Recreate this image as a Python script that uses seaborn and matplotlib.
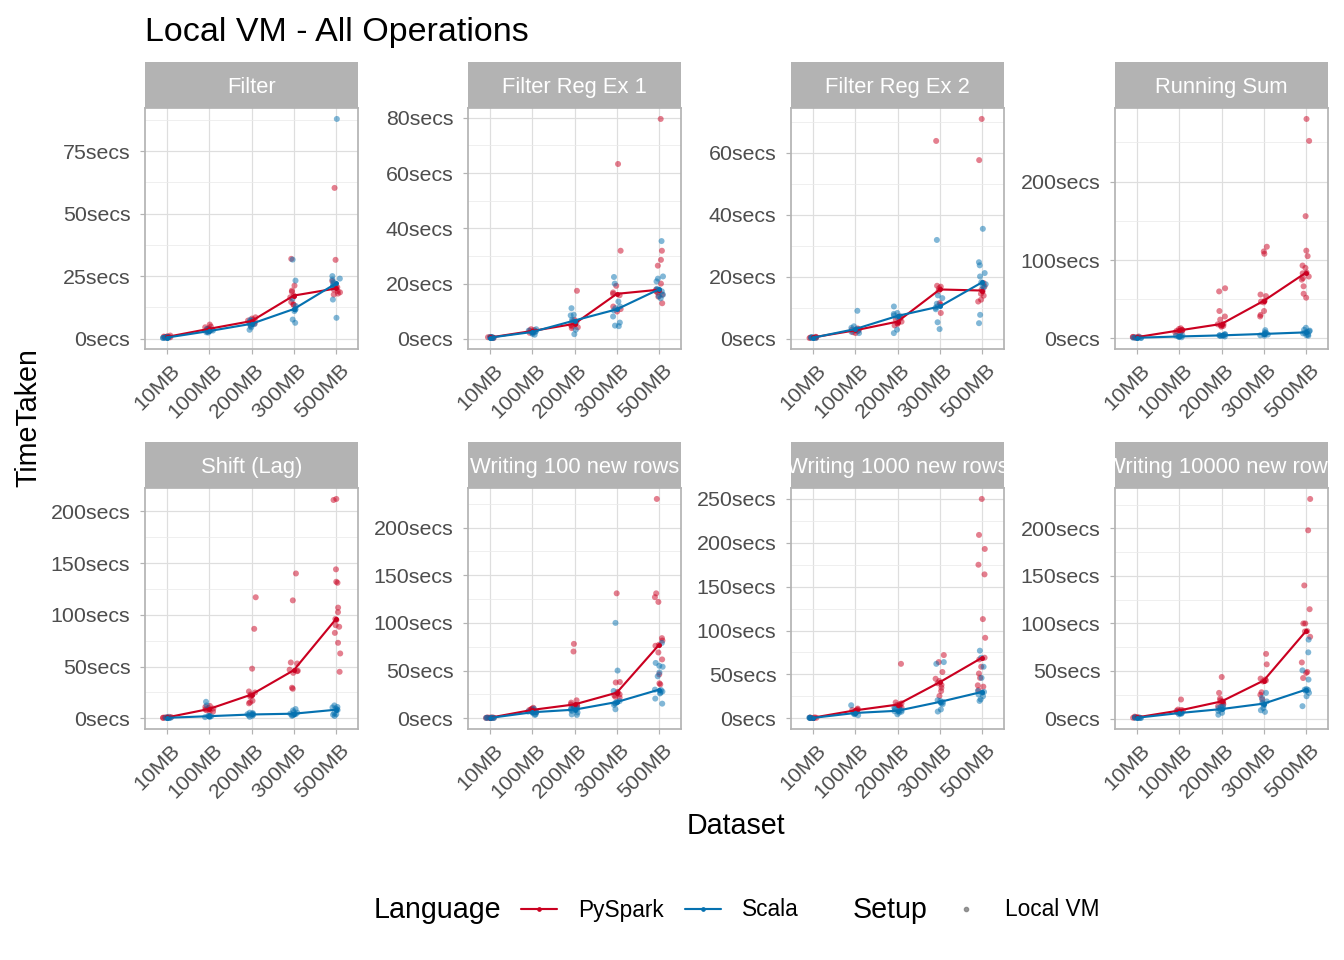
import matplotlib
matplotlib.use("Agg")
import matplotlib.pyplot as plt
from matplotlib.lines import Line2D
from matplotlib.patches import Rectangle
from matplotlib.ticker import MultipleLocator, AutoMinorLocator, FuncFormatter
from matplotlib.transforms import ScaledTranslation
import seaborn as sns
import pandas as pd
import numpy as np

datasets = ["10MB", "100MB", "200MB", "300MB", "500MB"]
languages = ["PySpark", "Scala"]
operations = ["Filter", "Filter Reg Ex 1", "Filter Reg Ex 2", "Running Sum",
              "Shift (Lag)", "Writing 100 new rows", "Writing 1000 new rows",
              "Writing 10000 new rows"]
y_steps = [25, 20, 20, 100, 50, 50, 50, 50]

# seconds per run, one inner list per dataset size
filter_py = [[0.9, 0.6, 0.4, 0.7, 0.5, 1.2, 0.8, 0.6],
             [3.2, 4.5, 5.6, 3.8, 4.0, 2.9, 4.8, 3.5],
             [8.5, 7.5, 6.8, 6.0, 5.5, 7.2, 6.5, 8.0],
             [21.2, 19.2, 18.7, 13.7, 31.9, 14.6, 17.2, 16.5, 13.5],
             [60.3, 31.5, 23.0, 19.6, 18.5, 17.6, 19.0, 20.5, 18.0, 21.0]]
filter_sc = [[0.3, 0.5, 0.2, 0.6, 0.4, 0.3, 0.5],
             [2.5, 3.0, 3.5, 2.8, 3.8, 2.4, 3.2],
             [7.5, 6.5, 5.0, 4.5, 3.5, 6.0, 7.0, 5.8],
             [31.6, 23.2, 13.0, 11.8, 11.6, 7.6, 6.3, 15.9, 11.0],
             [87.9, 25.0, 23.6, 22.5, 21.6, 20.5, 15.6, 8.3, 21.0, 24.0]]

regex1_py = [[0.5, 0.7, 0.4, 0.6, 0.3, 0.5],
             [2.7, 3.5, 2.4, 3.0, 2.2, 3.2],
             [17.4, 6.9, 5.9, 4.5, 3.9, 5.0, 4.2, 6.2],
             [63.3, 31.9, 19.2, 16.8, 16.3, 11.7, 10.8, 9.9, 15.8],
             [79.6, 31.9, 28.6, 26.5, 20.0, 17.8, 16.8, 15.3, 12.9, 17.2, 16.0]]
regex1_sc = [[0.4, 0.6, 0.3, 0.5, 0.7, 0.4],
             [1.5, 3.5, 2.5, 1.8, 3.0, 2.2, 2.8],
             [11.1, 8.7, 8.5, 6.9, 5.9, 3.3, 1.7, 6.4],
             [22.4, 20.0, 13.5, 11.7, 11.1, 8.1, 5.9, 4.8, 4.6, 10.3],
             [35.4, 22.6, 21.8, 20.8, 18.1, 17.2, 16.0, 14.7, 15.5, 17.8]]

regex2_py = [[0.3, 0.5, 0.2, 0.4, 0.6],
             [2.9, 2.5, 1.8, 3.3, 2.1, 3.0],
             [7.2, 6.1, 5.0, 4.3, 5.5, 4.8, 6.5],
             [63.9, 17.1, 16.3, 11.5, 11.0, 8.3, 15.5, 16.8],
             [71.0, 57.7, 18.0, 16.9, 15.3, 13.9, 12.6, 12.0, 15.8, 14.5]]
regex2_sc = [[0.2, 0.4, 0.3, 0.5, 0.3],
             [9.0, 4.0, 1.8, 3.1, 2.6, 3.5, 2.2],
             [10.4, 8.3, 8.0, 7.2, 2.9, 1.8, 7.5, 6.8],
             [31.9, 14.0, 13.1, 11.3, 10.4, 5.3, 3.1, 10.0, 9.5],
             [35.5, 24.7, 23.7, 21.2, 20.1, 18.2, 17.6, 7.7, 5.0, 16.5, 17.0]]

runsum_py = [[1.5, 2.0, 1.0, 1.8, 1.2, 2.5],
             [8.0, 12.0, 10.0, 9.5, 11.0, 7.5, 10.5, 13.0],
             [64.0, 60.0, 35.0, 28.0, 24.0, 18.0, 16.0, 17.0, 18.5, 15.0, 16.5],
             [117.0, 111.0, 108.0, 56.0, 54.0, 47.0, 35.0, 30.0, 28.0, 48.0, 46.0],
             [280.0, 252.0, 156.0, 112.0, 105.0, 93.0, 90.0, 83.0, 77.0, 75.0,
              66.5, 57.0, 52.0, 84.0, 79.0]]
runsum_sc = [[0.8, 1.2, 0.5, 1.0, 0.7, 1.5],
             [2.0, 3.0, 2.5, 1.5, 3.5, 2.2, 4.0],
             [3.0, 4.0, 5.0, 3.5, 4.5, 2.5, 3.8, 5.5],
             [10.6, 7.0, 5.0, 4.0, 6.0, 3.5, 8.0, 5.5],
             [13.6, 9.0, 7.0, 5.0, 4.0, 8.5, 11.0, 10.0, 3.5, 6.5]]

shift_py = [[0.8, 1.2, 0.5, 1.0, 1.5, 0.6],
            [12.0, 8.7, 7.0, 10.0, 9.5, 6.5, 8.0, 11.0],
            [117.0, 86.5, 48.0, 26.0, 25.0, 22.0, 17.0, 14.5, 15.5, 21.0, 23.0],
            [140.0, 114.0, 54.0, 53.0, 47.0, 45.6, 29.6, 28.6, 46.0, 44.0],
            [212.0, 211.0, 144.0, 132.0, 131.0, 107.0, 102.6, 96.0, 90.0, 88.5,
             82.6, 73.0, 62.7, 45.0, 95.0]]
shift_sc = [[0.5, 0.8, 0.3, 1.0, 0.6, 0.4],
            [16.0, 12.5, 2.0, 1.5, 1.8, 2.2, 1.2, 2.5],
            [4.0, 5.0, 3.0, 2.5, 4.5, 3.5, 1.5, 5.5],
            [9.0, 7.7, 5.5, 4.0, 3.5, 4.5, 3.0, 6.0, 2.5],
            [12.5, 8.7, 8.0, 4.0, 2.3, 9.5, 10.5, 5.0, 3.5, 11.0]]

w100_py = [[0.5, 0.8, 0.3, 1.0, 0.6, 0.4],
           [9.4, 8.0, 7.0, 10.0, 9.0, 6.5, 11.0, 8.5],
           [78.0, 70.0, 18.8, 16.4, 14.0, 11.8, 14.5, 13.0, 12.5],
           [131.0, 38.0, 37.5, 26.8, 24.0, 21.6, 25.0, 27.5, 22.5],
           [230.0, 131.0, 127.0, 122.0, 84.0, 81.5, 77.0, 69.0, 61.7, 46.0,
            36.6, 35.5, 76.0]]
w100_sc = [[0.3, 0.5, 0.2, 0.6, 0.4, 0.3],
           [10.0, 6.0, 4.0, 5.5, 7.0, 3.5, 6.5, 8.0],
           [10.0, 7.7, 6.0, 4.0, 9.4, 11.0, 9.0, 12.0, 3.5],
           [100.0, 50.0, 28.6, 17.0, 15.3, 9.4, 16.0, 18.0, 14.0],
           [79.0, 58.0, 55.0, 54.0, 48.0, 44.0, 29.6, 28.0, 26.0, 20.6, 15.3,
            30.0, 27.0]]

w1000_py = [[0.5, 0.8, 0.3, 1.0, 0.6],
            [9.0, 8.0, 10.0, 7.0, 11.0, 9.5, 6.5],
            [62.0, 17.0, 14.0, 12.0, 16.0, 18.0, 15.0, 13.5],
            [72.0, 64.0, 52.7, 45.0, 42.4, 39.8, 34.8, 31.0, 25.4, 38.0],
            [250.0, 209.0, 193.0, 175.0, 164.0, 113.0, 91.7, 69.0, 58.7, 51.0,
             46.0, 37.5, 36.0, 32.0, 67.0]]
w1000_sc = [[0.3, 0.5, 0.2, 0.6, 0.4],
            [14.8, 6.4, 3.4, 5.0, 7.0, 6.0, 4.5],
            [10.0, 6.4, 4.5, 8.0, 9.0, 11.0, 7.5, 12.0],
            [64.0, 62.0, 19.7, 17.0, 10.0, 7.6, 18.6, 20.5, 16.0],
            [77.0, 69.0, 58.7, 46.0, 29.0, 27.0, 21.6, 19.7, 30.0, 31.0, 25.0]]

w10000_py = [[1.0, 1.5, 0.8, 1.2, 2.0],
             [20.0, 9.4, 8.4, 7.5, 8.0, 9.0, 6.5],
             [43.7, 27.0, 21.0, 18.0, 17.0, 15.0, 16.5, 19.0, 13.0],
             [68.0, 57.0, 41.0, 40.0, 27.6, 25.0, 20.0, 42.0, 39.0],
             [231.0, 198.0, 140.0, 115.0, 100.0, 100.0, 91.6, 86.0, 59.0, 49.0,
              48.0, 42.6, 92.0]]
w10000_sc = [[0.8, 1.2, 0.5, 1.0, 0.7],
             [6.0, 5.0, 7.0, 4.5, 6.5, 5.5],
             [13.0, 9.4, 6.0, 4.0, 11.0, 12.0, 10.5, 8.0],
             [27.0, 21.7, 18.0, 11.0, 8.7, 7.0, 15.7, 16.5, 14.0],
             [83.0, 69.6, 50.7, 41.0, 30.4, 27.0, 23.4, 13.0, 30.0, 31.0, 29.0]]

runs = {
    "Filter": (filter_py, filter_sc),
    "Filter Reg Ex 1": (regex1_py, regex1_sc),
    "Filter Reg Ex 2": (regex2_py, regex2_sc),
    "Running Sum": (runsum_py, runsum_sc),
    "Shift (Lag)": (shift_py, shift_sc),
    "Writing 100 new rows": (w100_py, w100_sc),
    "Writing 1000 new rows": (w1000_py, w1000_sc),
    "Writing 10000 new rows": (w10000_py, w10000_sc),
}

rows = []
for op in operations:
    for lang, per_size in zip(languages, runs[op]):
        for ds, vals in zip(datasets, per_size):
            for v in vals:
                rows.append((op, lang, ds, v))
df = pd.DataFrame(rows, columns=["Operation", "Language", "Dataset", "TimeTaken"])

sns.set_theme(style="white")
plt.rcParams["font.family"] = ["Liberation Sans", "DejaVu Sans"]
plt.rcParams["text.color"] = "black"

colors = {"PySpark": "#CA0020", "Scala": "#0571B0"}
W, H = 1344, 960
fig = plt.figure(figsize=(14, 10), dpi=96)

col_left = [145, 468, 791, 1115]
row_top = [108, 488]
pw, ph = 213, 241
strip_h = 46
xlab_shift = ScaledTranslation(10 / 96, -9 / 96, fig.dpi_scale_trans)

np.random.seed(3)
for i, op in enumerate(operations):
    r, c = divmod(i, 4)
    ax = fig.add_axes([col_left[c] / W, 1 - (row_top[r] + ph) / H, pw / W, ph / H])
    sub = df[df["Operation"] == op]

    sns.stripplot(data=sub, x="Dataset", y="TimeTaken", hue="Language",
                  order=datasets, hue_order=languages, palette=colors,
                  jitter=0.1, size=4.5, alpha=0.5, linewidth=0,
                  legend=False, ax=ax, zorder=2)
    sns.pointplot(data=sub, x="Dataset", y="TimeTaken", hue="Language",
                  order=datasets, hue_order=languages, palette=colors,
                  estimator="median", errorbar=None, markers="o",
                  markersize=2.5, linewidth=1.6, legend=False, ax=ax)

    lo, hi = sub["TimeTaken"].min(), sub["TimeTaken"].max()
    pad = 0.05 * (hi - lo)
    ax.set_ylim(lo - pad, hi + pad)
    ax.set_xlim(-0.52, 4.52)

    ax.yaxis.set_major_locator(MultipleLocator(y_steps[i]))
    ax.yaxis.set_minor_locator(AutoMinorLocator(2))
    ax.yaxis.set_major_formatter(FuncFormatter(lambda v, p: f"{v:g}secs"))
    ax.set_axisbelow(True)
    ax.grid(which="major", color="#DEDEDE", linewidth=0.9)
    ax.grid(which="minor", axis="y", color="#EBEBEB", linewidth=0.6)
    for s in ax.spines.values():
        s.set_color("#B3B3B3")
        s.set_linewidth(1.3)
    ax.tick_params(axis="both", which="major", color="#B3B3B3", length=4,
                   width=0.9, labelcolor="#4D4D4D", labelsize=16,
                   left=True, bottom=True)
    ax.tick_params(axis="y", which="major", pad=7)
    ax.tick_params(axis="x", which="major", pad=3)
    ax.tick_params(axis="y", which="minor", length=0)
    for lab in ax.get_xticklabels():
        lab.set_rotation(45)
        lab.set_ha("right")
        lab.set_va("center")
        lab.set_rotation_mode("anchor")
        lab.set_transform(lab.get_transform() + xlab_shift)
    ax.set_xlabel("")
    ax.set_ylabel("")

    rect = Rectangle((0, 1), 1, strip_h / ph, transform=ax.transAxes,
                     facecolor="#B3B3B3", edgecolor="none", clip_on=False)
    ax.add_artist(rect)
    t = ax.text(0.5, 1 + strip_h / ph / 2, op, transform=ax.transAxes,
                ha="center", va="center_baseline", color="white", fontsize=16.5)
    t.set_clip_path(rect)

fig.text(145 / W, 1 - 32 / H, "Local VM - All Operations", fontsize=25.5,
         ha="left", va="center", color="black")
fig.text(28 / W, 1 - 418 / H, "TimeTaken", fontsize=21.5, rotation=90,
         ha="center", va="center")
fig.text(736 / W, 1 - 826 / H, "Dataset", fontsize=21.5, ha="center", va="center")

ly = 1 - 910 / H
fig.text(374 / W, ly, "Language", fontsize=21.5, ha="left", va="center")
lang_handles = [Line2D([], [], color=colors[l], lw=1.6, marker="o", markersize=2.5)
                for l in languages]
fig.legend(handles=lang_handles, labels=languages, loc="center left",
           bbox_to_anchor=(521 / W, ly), ncol=2, frameon=False, fontsize=17,
           handlelength=1.6, handletextpad=0.9, columnspacing=0.95,
           borderpad=0, borderaxespad=0)
fig.text(853 / W, ly, "Setup", fontsize=21.5, ha="left", va="center")
setup_handle = [Line2D([], [], ls="none", marker="o", markersize=3.2,
                       color="#7F7F7F", alpha=0.8)]
fig.legend(handles=setup_handle, labels=["Local VM"], loc="center left",
           bbox_to_anchor=(948 / W, ly), frameon=False, fontsize=17,
           handlelength=1.6, handletextpad=0.9, borderpad=0, borderaxespad=0)

fig.savefig("out.png", dpi=96)
